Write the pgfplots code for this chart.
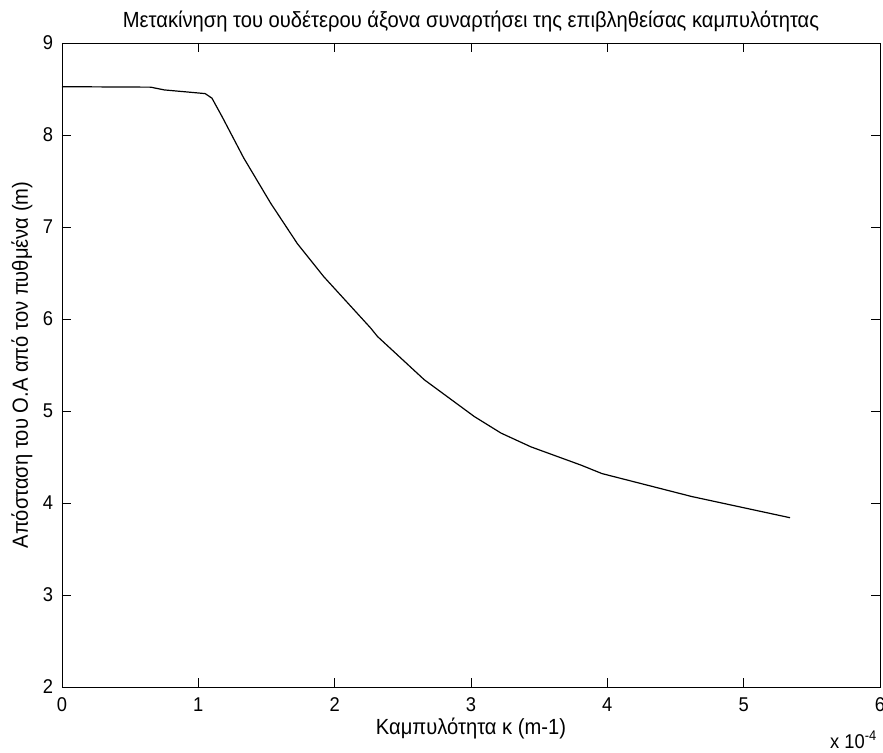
\documentclass[border=0pt]{standalone}
\usepackage{fontspec}
\setmainfont{Liberation Sans}[FakeStretch=0.92]
\usepackage{pgfplots}
\pgfplotsset{compat=1.18}

\begin{document}
\fontsize{20}{24}\selectfont
\begin{tikzpicture}
\begin{axis}[
  scale only axis,
  width=818bp, height=644bp,
  xmin=0, xmax=6, ymin=2, ymax=9,
  xtick={0,1,2,3,4,5,6},
  ytick={2,3,4,5,6,7,8,9},
  tick align=inside,
  major tick length=9bp,
  tick style={black, line width=0.8bp},
  axis line style={black, line width=0.8bp},
  /pgf/number format/assume math mode=true,
  tick label style={font=\fontsize{20}{24}\selectfont, inner sep=0pt},
  xticklabel style={anchor=center, yshift=-18bp},
  yticklabel style={anchor=center, xshift=-14bp},
  clip=false,
]
\addplot[black, line width=1.2bp] coordinates {
  (0.00,8.525) (0.65,8.52) (0.75,8.49) (0.90,8.47) (1.05,8.45)
  (1.10,8.40) (1.174,8.20) (1.333,7.75) (1.53,7.26) (1.726,6.82)
  (1.92,6.46) (2.265,5.90) (2.314,5.81) (2.657,5.34) (3.024,4.94)
  (3.22,4.76) (3.44,4.61) (3.81,4.41) (3.96,4.32) (4.62,4.07)
  (5.34,3.84)
};
\node[anchor=base, font=\fontsize{22}{26}\selectfont] at ([yshift=15bp]rel axis cs:0.5,1)
  {Μετακίνηση του ουδέτερου άξονα συναρτήσει της επιβληθείσας καμπυλότητας};
\node[anchor=center, inner sep=0pt, font=\fontsize{22}{26}\selectfont] at ([yshift=-42bp]rel axis cs:0.5,0)
  {Καμπυλότητα κ (m-1)};
\node[anchor=center, rotate=90, font=\fontsize{22}{26}\selectfont] at ([xshift=-40bp]rel axis cs:0,0.5)
  {Απόσταση του Ο.Α από τον πυθμένα (m)};
\node[anchor=base east, inner sep=0pt] at ([xshift=-3bp, yshift=-61bp]rel axis cs:1,0)
  {x 10\textsuperscript{-4}};
\end{axis}
\pgfresetboundingbox
\path[use as bounding box] (current axis.south west) ++(-62bp,-66bp) rectangle ++(883bp,753bp);
\end{tikzpicture}
\end{document}
